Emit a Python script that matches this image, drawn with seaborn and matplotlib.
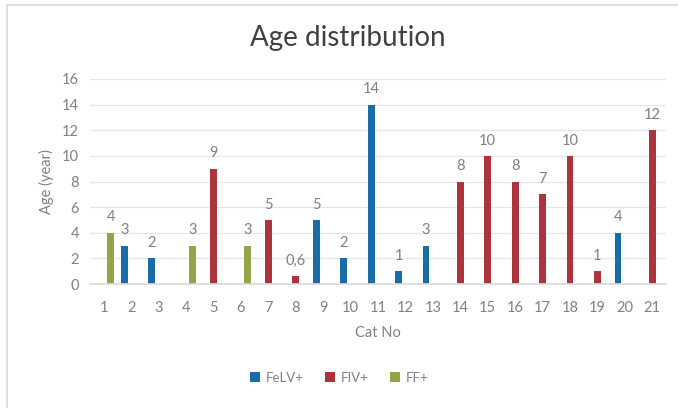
import pandas as pd
import matplotlib
matplotlib.use("Agg")
import matplotlib.pyplot as plt
import seaborn as sns

# data
cat_no = [str(i) for i in range(1, 22)]
group = ["FF+", "FeLV+", "FeLV+", "FF+", "FIV+", "FF+", "FIV+", "FIV+", "FeLV+", "FeLV+",
         "FeLV+", "FeLV+", "FeLV+", "FIV+", "FIV+", "FIV+", "FIV+", "FIV+", "FIV+", "FeLV+", "FIV+"]
age = [4, 3, 2, 3, 9, 3, 5, 0.6, 5, 2, 14, 1, 3, 8, 10, 8, 7, 10, 1, 4, 12]
age_labels = ["4", "3", "2", "3", "9", "3", "5", "0,6", "5", "2", "14", "1", "3",
              "8", "10", "8", "7", "10", "1", "4", "12"]
hue_order = ["FeLV+", "FIV+", "FF+"]
palette = {"FeLV+": "#0070c0", "FIV+": "#c0202f", "FF+": "#9bb43a"}

df = pd.DataFrame({"Cat No": cat_no, "Group": group, "Age": age, "Label": age_labels})

sns.set_theme(style="white")
plt.rcParams["font.family"] = ["Lato", "DejaVu Sans"]

fig = plt.figure(figsize=(6.78, 4.08), dpi=100)
ax = fig.add_axes([90 / 678, 1 - 284 / 408, 576 / 678, 205 / 408])

sns.barplot(data=df, x="Cat No", y="Age", hue="Group", hue_order=hue_order,
            order=cat_no, palette=palette, width=0.75, dodge=True, ax=ax,
            edgecolor="none", legend=True)

# value labels above each bar (bar x-centre -> category index)
for cont in ax.containers:
    for bar in cont:
        if bar is None or bar.get_height() == 0:
            continue
        i = int(round(bar.get_x() + bar.get_width() / 2))
        ax.annotate(age_labels[i], (bar.get_x() + bar.get_width() / 2, bar.get_height()),
                    xytext=(0, 6), textcoords="offset points", ha="center", va="bottom",
                    fontsize=10.5, color="#808080")

ax.set_ylim(0, 16)
ax.set_yticks(range(0, 17, 2))
ax.set_xlim(-0.5, 20.5)
ax.grid(axis="y", color="#e6e6e6", linewidth=0.9)
ax.set_axisbelow(True)
for s in ["top", "right", "left"]:
    ax.spines[s].set_visible(False)
ax.spines["bottom"].set_color("#d9d9d9")
ax.tick_params(axis="y", colors="#808080", labelsize=10.5, length=0, pad=8)
ax.tick_params(axis="x", colors="#808080", labelsize=10.5, length=0, pad=12)
ax.set_xlabel("Cat No", color="#808080", fontsize=10.5, labelpad=8)
ax.set_ylabel("Age (year)", color="#808080", fontsize=10.5, labelpad=6)

fig.suptitle("Age distribution", x=0.513, y=1 - 38 / 408, va="center",
             fontsize=20, color="#404040")

ax.legend(loc="center", bbox_to_anchor=(0.5, 1 - 378 / 408), bbox_transform=fig.transFigure,
          ncol=3, frameon=False, fontsize=9.5, labelcolor="#808080",
          handlelength=0.8, handleheight=0.8, handletextpad=0.4, columnspacing=1.6)

# chart frame (only left and top edges visible)
fig.add_artist(plt.Line2D([7 / 678, 7 / 678], [0, 1 - 5 / 408], transform=fig.transFigure,
                          color="#d9d9d9", linewidth=1.2))
fig.add_artist(plt.Line2D([7 / 678, 1], [1 - 5 / 408, 1 - 5 / 408], transform=fig.transFigure,
                          color="#d9d9d9", linewidth=1.2))

fig.savefig("out.png", dpi=100, facecolor="white")
